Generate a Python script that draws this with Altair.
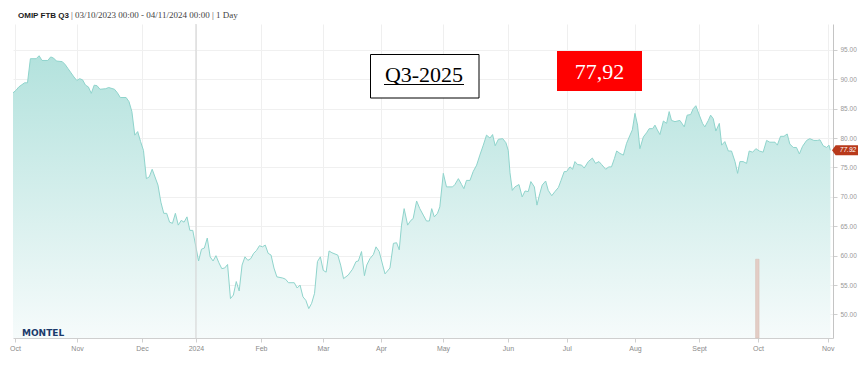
import altair as alt
import pandas as pd

# ---- data (trading-session index, price) ----
session = [0, 1, 2, 4, 5, 6, 8, 9, 10, 12, 13, 14, 15, 17, 18, 19, 21, 22, 23, 24,
           25, 26, 27, 28, 29, 30, 32, 33, 35, 36, 37, 39, 40, 41, 42, 43, 44, 45, 46, 47,
           48, 50, 51, 52, 53, 54, 55, 56, 57, 58, 59, 60, 61, 62, 64, 65, 66, 67, 68, 69,
           70, 71, 72, 73, 74, 75, 76, 77, 78, 79, 80, 81, 82, 83, 84, 85, 86, 87, 88, 89,
           90, 91, 93, 94, 95, 97, 98, 99, 100, 101, 102, 103, 104, 105, 106, 107, 108, 109, 110, 112,
           113, 114, 115.6, 117.1, 118.3, 119.1, 120.2, 121.2, 122.0, 123.1, 124.3, 125.2, 126.3, 127.5, 128.3, 130.0,
           131.2, 132.3, 133.2, 134.0, 134.9, 136.1, 137.2, 138.0, 139.2, 140.3, 141.5, 142.6, 143.6, 144.4, 145.3, 146.4,
           147.2, 148.4, 149.5, 151.6, 152.4, 153.6, 154.7, 155.5, 156.4, 157.6, 158.7, 159.9, 161.0, 162.2, 163.3, 164.5,
           165.4, 166.3, 167.4, 168.9, 170.0, 170.8, 171.4, 172.2, 173.1, 174.5, 175.6, 176.6, 177.7, 178.6, 179.8, 180.7,
           181.7, 182.5, 183.7, 184.6, 185.8, 186.9, 188.1, 189.0, 190.1, 190.9, 192.1, 193.0, 193.8, 194.7, 196.1, 197.0,
           198.4, 199.8, 200.9, 202.1, 203.0, 204.4, 205.5, 206.4, 207.4, 208.2, 209.3, 210.5, 211.6, 212.8, 213.6, 214.5,
           215.4, 216.2, 217.4, 218.5, 219.4, 220.6, 221.4, 222.2, 223.1, 224.3, 225.4, 226.3, 227.1, 228.3, 230.0, 231.5,
           232.5, 233.7, 234.6, 235.5, 236.7, 237.8, 238.6, 239.8, 240.6, 241.5, 242.4, 243.6, 244.4, 245.5, 246.7, 247.8,
           249.0, 249.9, 250.7, 251.8, 253.0, 253.9, 255.1, 256.2, 257.4, 258.7, 259.9, 261.0, 262.8, 263.6, 264.7, 265.9,
           267.0, 267.9, 269.1, 270.2, 271.2, 272.3, 273.7, 274.8, 276.2, 277.4, 278.3, 279.4, 280.6, 281.4, 281.9]
price = [87.7, 88.1, 88.7, 89.4, 89.4, 93.5, 93.5, 94.0, 93.2, 93.2, 93.8, 93.6, 93.1, 93.0, 92.5, 91.8, 90.4, 89.8, 90.1, 89.9,
         89.0, 88.7, 87.6, 89.0, 88.9, 88.3, 88.4, 88.6, 88.3, 87.7, 86.9, 86.9, 86.2, 84.5, 80.5, 81.1, 79.4, 77.9, 73.1, 73.4,
         74.7, 72.0, 69.1, 67.2, 67.2, 65.7, 65.5, 67.2, 65.2, 66.0, 65.7, 66.6, 64.3, 64.3, 59.1, 61.1, 61.3, 63.0, 59.8, 59.1,
         60.0, 58.8, 57.8, 57.9, 58.5, 52.7, 53.3, 55.6, 54.0, 58.4, 59.8, 59.2, 59.5, 60.4, 60.9, 61.7, 61.5, 61.8, 60.4, 60.1,
         57.9, 56.4, 56.2, 56.0, 55.4, 55.4, 54.5, 55.0, 53.0, 52.4, 51.0, 51.9, 53.6, 59.0, 59.8, 57.5, 57.2, 60.8, 60.5, 60.1,
         58.4, 56.1, 56.7, 57.7, 59.0, 59.1, 60.7, 56.6, 58.4, 59.5, 60.2, 61.5, 60.7, 58.4, 56.9, 57.9,
         62.1, 62.2, 61.0, 65.2, 68.0, 65.2, 66.0, 66.3, 69.3, 68.0, 66.9, 65.9, 65.9, 68.0, 66.6, 67.2,
         68.3, 74.0, 71.7, 71.7, 72.1, 73.1, 72.1, 71.4, 72.8, 72.8, 74.3, 75.4, 77.1, 78.8, 80.5, 80.0,
         80.6, 78.7, 79.8, 79.9, 79.2, 77.9, 74.1, 71.1, 71.7, 72.1, 70.0, 71.0, 70.9, 72.6, 71.7, 68.6,
         70.6, 72.0, 72.7, 71.1, 70.2, 70.9, 71.6, 72.8, 74.3, 74.3, 75.1, 74.7, 76.0, 75.5, 75.4, 74.9,
         76.0, 76.6, 75.7, 76.0, 75.5, 74.7, 75.1, 75.1, 76.5, 77.8, 77.4, 77.1, 79.1, 80.5, 81.4, 84.2,
         82.2, 78.2, 80.2, 80.9, 81.6, 81.6, 82.2, 81.4, 80.6, 82.9, 82.5, 84.5, 83.0, 82.8, 83.0, 81.9,
         83.9, 84.0, 85.0, 85.5, 83.9, 82.5, 81.9, 83.0, 83.9, 83.3, 81.2, 82.5, 78.8, 79.4, 77.8, 77.8,
         76.0, 74.0, 76.0, 76.0, 75.7, 77.8, 77.6, 78.2, 77.8, 77.6, 79.6, 79.3, 79.3, 78.8, 80.3, 80.3,
         80.7, 79.0, 78.4, 78.4, 77.3, 78.6, 79.6, 79.9, 79.6, 79.6, 79.7, 78.7, 78.4, 78.8, 77.92]

tick_pos = [0.7, 22.1, 44.5, 63.1, 85.5, 106.9, 126.9, 148.3, 170.7, 191.0, 214.5, 236.6, 256.9, 281.0]
tick_lab = ["Oct", "Nov", "Dec", "2024", "Feb", "Mar", "Apr", "May", "Jun", "Jul", "Aug", "Sept", "Oct", "Nov"]
y_ticks = [50, 55, 60, 65, 70, 75, 80, 85, 90, 95]

year_break = [63.1]
volume_session = [256.7]
volume_top = [59.4]

title_bold = "OMIP FTB Q3"
title_rest = "| 03/10/2023 00:00 - 04/11/2024 00:00 | 1 Day"
box_label = "Q3-2025"
last_label = "77,92"
last_price = price[-1]

Y_MIN, Y_MAX = 46, 99.4
X_MIN, X_MAX = 0, 282.8

df = pd.DataFrame({"session": session, "price": price})
one = pd.DataFrame({"k": [0]})

label_expr = "[" + ",".join(f"'{t}'" for t in tick_lab) + "][indexof([" + ",".join(str(p) for p in tick_pos) + "], datum.value)]"

xscale = alt.Scale(domain=[X_MIN, X_MAX], nice=False, zero=False, padding=0)
yscale = alt.Scale(domain=[Y_MIN, Y_MAX], nice=False, zero=False, padding=0)

xaxis = alt.Axis(values=tick_pos, labelExpr=label_expr, title=None, grid=True,
                 gridColor="#efefef", domainColor="#cfcfcf", tickColor="#cfcfcf",
                 tickSize=4, labelColor="#8a8a8a", labelFontSize=7, labelFont="Liberation Sans",
                 labelFlush=False, labelPadding=2, labelOverlap=False)
yaxis = alt.Axis(values=y_ticks, format=".2f", orient="right", title=None, grid=True,
                 gridColor="#f0f0f0", domainColor="#c4c4c4", tickColor="#cfcfcf",
                 tickSize=4, labelColor="#999999", labelFontSize=6.5, labelFont="Liberation Sans",
                 labelFlush=False, labelPadding=3, labelOverlap=False)

grad = alt.Gradient(gradient="linear",
                    stops=[alt.GradientStop(color="#f6fbfb", offset=0),
                           alt.GradientStop(color="#b3e2dd", offset=1)],
                    x1=1, x2=1, y1=1, y2=0)

area = alt.Chart(df).mark_area(color=grad, interpolate="linear").encode(
    x=alt.X("session:Q", scale=xscale, axis=xaxis),
    y=alt.Y("price:Q", scale=yscale, axis=yaxis),
    y2=alt.datum(Y_MIN),
)
line = alt.Chart(df).mark_line(color="#8fd4cc", strokeWidth=1).encode(
    x=alt.X("session:Q", axis=xaxis), y=alt.Y("price:Q", axis=yaxis))

yb = alt.Chart(pd.DataFrame({"s": year_break})).mark_rule(color="#d4d4d4", strokeWidth=1.2, opacity=0.9).encode(
    x=alt.X("s:Q", axis=xaxis))

vol = alt.Chart(pd.DataFrame({"s": volume_session, "v": volume_top})).mark_bar(
    color="#e3cdc6", width=3.5, stroke="#d6bcb3", strokeWidth=0.5).encode(
    x=alt.X("s:Q", axis=xaxis), y=alt.Y("v:Q", axis=yaxis), y2=alt.datum(Y_MIN))

t1 = alt.Chart(one).mark_text(text=title_bold, font="Liberation Sans", fontWeight="bold", fontSize=8,
                              align="left", baseline="alphabetic", color="#1a1a1a").encode(
    x=alt.value(5), y=alt.value(-6.5))
t2 = alt.Chart(one).mark_text(text=title_rest, font="Liberation Serif", fontSize=9,
                              align="left", baseline="alphabetic", color="#444").encode(
    x=alt.value(58), y=alt.value(-6.5))

box = alt.Chart(one).mark_rect(fill="white", stroke="black", strokeWidth=1).encode(
    x=alt.value(357.5), x2=alt.value(466), y=alt.value(30.5), y2=alt.value(74))
boxt = alt.Chart(one).mark_text(text=box_label, font="Liberation Serif", fontSize=22,
                                align="center", baseline="alphabetic", color="black").encode(
    x=alt.value(411), y=alt.value(58))
underline = alt.Chart(one).mark_rule(color="black", strokeWidth=1.2).encode(
    x=alt.value(371), x2=alt.value(451), y=alt.value(60.5))

red = alt.Chart(one).mark_rect(fill="#ff0000").encode(
    x=alt.value(544), x2=alt.value(629), y=alt.value(27), y2=alt.value(67))
redt = alt.Chart(one).mark_text(text=last_label, font="Liberation Serif", fontSize=22,
                                align="center", baseline="alphabetic", color="white").encode(
    x=alt.value(586.5), y=alt.value(55))

logo = alt.Chart(one).mark_text(text="MONTEL", font="DejaVu Sans", fontWeight="bold", fontSize=9,
                                align="left", baseline="alphabetic", color="#1b3a6b").encode(
    x=alt.value(9), y=alt.value(312))

tag_path = "M-1,0L-0.72,-0.38L1,-0.38L1,0.38L-0.72,0.38Z"
tag = alt.Chart(one).mark_point(shape=tag_path, filled=True, size=676, color="#b8391b", opacity=1).encode(
    x=alt.value(832), y=alt.Y(datum=last_price, axis=yaxis))
tagt = alt.Chart(one).mark_text(text=f"{last_price:.2f}", font="Liberation Sans", fontStyle="italic",
                                fontSize=6.5, align="center", baseline="middle", color="white").encode(
    x=alt.value(835), y=alt.Y(datum=last_price, axis=yaxis))

chart = alt.layer(area, line, yb, vol, t1, t2, box, boxt, underline, red, redt, logo, tag, tagt).properties(
    width=820, height=314,
    autosize=alt.AutoSizeParams(type="none"),
    padding={"left": 5, "top": 16, "right": 25, "bottom": 30},
).configure(background="white").configure_view(stroke=None)

chart.save("out.html", embed_options={"renderer": "svg", "actions": False})
